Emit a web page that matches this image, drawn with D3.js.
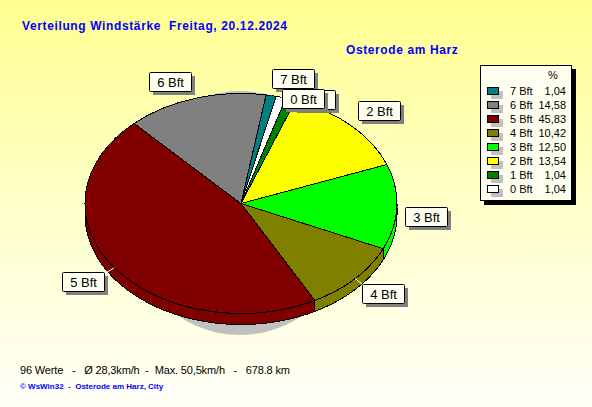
<!DOCTYPE html>
<html>
<head>
<meta charset="utf-8">
<script src="https://cdn.jsdelivr.net/npm/d3@7"></script>
<style>
  html, body { margin: 0; padding: 0; overflow: hidden; }
  svg { display: block; }
  text { font-family: "Liberation Sans", Arial, sans-serif; white-space: pre; }
</style>
</head>
<body>
<svg width="592" height="407"></svg>
<script>
// values, in pie order (clockwise)
const categories = ['0 Bft', '1 Bft', '2 Bft', '3 Bft', '4 Bft', '5 Bft', '6 Bft', '7 Bft'];
const percents = [1.04, 1.04, 13.54, 12.5, 10.42, 45.83, 14.58, 1.04];
const sliceColors = ['#ffffff', '#008000', '#ffff00', '#00ff00', '#808000', '#800000', '#808080', '#008080'];

const titleText = 'Verteilung Windstärke  Freitag, 20.12.2024';
const placeText = 'Osterode am Harz';
const statsText = '96 Werte   -   Ø 28,3km/h  -  Max. 50,5km/h   -   678.8 km';
const creditText = '© WsWin32  -  Osterode am Harz, City';

const W = 592, H = 407;
const cx = 241, cy = 203.5, rx = 156, ry = 110, depth = 11;
const boxW = 42, boxH = 19;

// label box top-left and where the white leader meets it
const labelLayout = {
  '0 Bft': { x: 282, y: 89, lx: 282, ly: 98 },
  '1 Bft': { x: 293, y: 90, lx: 293, ly: 100 },
  '2 Bft': { x: 358, y: 101, lx: 358, ly: 120 },
  '3 Bft': { x: 405, y: 207, lx: 405, ly: 207 },
  '4 Bft': { x: 362, y: 284, lx: 362, ly: 284 },
  '5 Bft': { x: 62, y: 272, lx: 104, ly: 274 },
  '6 Bft': { x: 149, y: 72, lx: 191, ly: 92 },
  '7 Bft': { x: 272, y: 69, lx: 272, ly: 88 },
};

const svg = d3.select('svg');

// background fade
const grad = svg.append('defs').append('linearGradient')
  .attr('id', 'bg').attr('x1', 0).attr('y1', 0).attr('x2', 0).attr('y2', 1);
grad.append('stop').attr('offset', '0%').attr('stop-color', '#ffff90');
grad.append('stop').attr('offset', '50%').attr('stop-color', '#ffffc8');
grad.append('stop').attr('offset', '100%').attr('stop-color', '#fffff8');
svg.append('rect').attr('width', W).attr('height', H).attr('fill', 'url(#bg)');

const color = d3.scaleOrdinal().domain(categories).range(sliceColors);

const start = 13 * Math.PI / 180;
const pie = d3.pie().sort(null).startAngle(start).endAngle(start + 2 * Math.PI);
const slices = pie(percents).map((d, i) => ({ ...d, name: categories[i] }));

const rim = (a, dy = 0) => [cx + rx * Math.sin(a), cy - ry * Math.cos(a) + dy];

// soft shadow under the pie
svg.append('ellipse')
  .attr('cx', 240).attr('cy', 213).attr('rx', 115).attr('ry', 122)
  .attr('fill', '#c0c0c0');

// side wall, only the front half of the rim is visible
const line = d3.line();
const wallG = svg.append('g').attr('shape-rendering', 'crispEdges');
slices.forEach((d) => {
  for (const turn of [0, 2 * Math.PI]) {
    const a0 = Math.max(d.startAngle, Math.PI / 2 + turn);
    const a1 = Math.min(d.endAngle, 3 * Math.PI / 2 + turn);
    if (a1 <= a0) continue;
    const angles = d3.range(a0, a1, 0.01).concat([a1]);
    const top = angles.map((a) => rim(a));
    const bottom = angles.map((a) => rim(a, depth)).reverse();
    wallG.append('path')
      .attr('d', line(top.concat(bottom)) + 'Z')
      .attr('fill', color(d.name))
      .attr('stroke', '#000');
  }
});

// top face
const arc = d3.arc().innerRadius(0).outerRadius(rx);
svg.append('g')
  .attr('transform', `translate(${cx},${cy}) scale(1,${ry / rx})`)
  .attr('shape-rendering', 'crispEdges')
  .selectAll('path')
  .data(slices)
  .join('path')
  .attr('d', arc)
  .attr('fill', (d) => color(d.name))
  .attr('stroke', '#000')
  .attr('vector-effect', 'non-scaling-stroke');

// callouts, 7 Bft first so that 0 Bft ends up on top
slices.slice().reverse().forEach((d) => {
  const box = labelLayout[d.name];
  const mid = rim((d.startAngle + d.endAngle) / 2);
  const g = svg.append('g');
  g.append('line')
    .attr('x1', mid[0]).attr('y1', mid[1])
    .attr('x2', box.lx).attr('y2', box.ly)
    .attr('stroke', '#fff');
  g.append('rect')
    .attr('x', box.x + 4).attr('y', box.y + 4)
    .attr('width', boxW).attr('height', boxH)
    .attr('fill', '#808080');
  g.append('rect')
    .attr('x', box.x + 0.5).attr('y', box.y + 0.5)
    .attr('width', boxW).attr('height', boxH)
    .attr('rx', 1)
    .attr('fill', '#fffff0').attr('stroke', '#000');
  g.append('text')
    .attr('x', box.x + boxW / 2 + 0.5).attr('y', box.y + 14.5)
    .attr('text-anchor', 'middle')
    .attr('font-size', 13).attr('font-weight', 300).attr('fill', '#000')
    .text(d.name);
});

// legend
const legendX = 480, legendY = 65, legendW = 91, legendH = 135;
const legend = svg.append('g');
legend.append('rect')
  .attr('x', legendX + 4).attr('y', legendY + 4)
  .attr('width', legendW + 1).attr('height', legendH + 1)
  .attr('fill', '#000');
legend.append('rect')
  .attr('x', legendX + 0.5).attr('y', legendY + 0.5)
  .attr('width', legendW).attr('height', legendH)
  .attr('fill', '#fffff0').attr('stroke', '#000');
legend.append('text')
  .attr('x', 553).attr('y', 79)
  .attr('text-anchor', 'middle').attr('font-size', 11)
  .text('%');

const legendOrder = categories.slice().reverse();
const rowY = d3.scalePoint().domain(legendOrder).range([91, 189]);
const fmt = (v) => v.toFixed(2).replace('.', ',');

legendOrder.forEach((name) => {
  const y = rowY(name);
  const v = percents[categories.indexOf(name)];
  legend.append('rect')
    .attr('x', 491).attr('y', y)
    .attr('width', 12).attr('height', 8)
    .attr('fill', '#c0c0c0');
  legend.append('rect')
    .attr('x', 487.5).attr('y', y - 3.5)
    .attr('width', 11).attr('height', 7)
    .attr('fill', color(name)).attr('stroke', '#000');
  legend.append('text')
    .attr('x', 510).attr('y', y + 4)
    .attr('font-size', 11)
    .text(name);
  legend.append('text')
    .attr('x', 566).attr('y', y + 4)
    .attr('text-anchor', 'end').attr('font-size', 11)
    .text(fmt(v));
});

// titles and footer
svg.append('text')
  .attr('x', 22).attr('y', 30)
  .attr('font-size', 12).attr('font-weight', 'bold')
  .attr('textLength', 265)
  .attr('fill', '#0000ff')
  .text(titleText);
svg.append('text')
  .attr('x', 346).attr('y', 54)
  .attr('font-size', 12).attr('font-weight', 'bold')
  .attr('letter-spacing', 0.6)
  .attr('fill', '#0000ff')
  .text(placeText);
svg.append('text')
  .attr('x', 20).attr('y', 374)
  .attr('font-size', 11).attr('fill', '#000')
  .attr('textLength', 270)
  .text(statsText);
svg.append('text')
  .attr('x', 20).attr('y', 389)
  .attr('font-size', 8).attr('font-weight', 'bold')
  .attr('fill', '#0000ff')
  .text(creditText);
</script>
</body>
</html>
